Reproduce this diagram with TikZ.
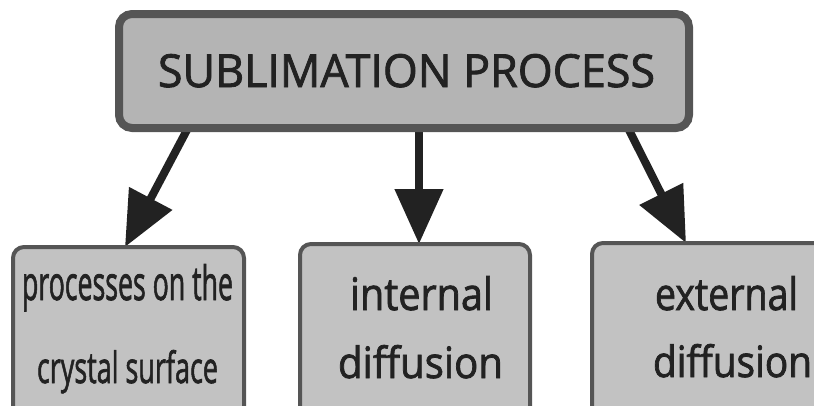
\documentclass[tikz,border=0pt]{standalone}
\usepackage{fontspec}
\setmainfont{Open Sans}
\newfontfamily\lblfont{Open Sans}[FakeBold=1.8]
\usetikzlibrary{arrows.meta,backgrounds}
\definecolor{boxline}{HTML}{555555}
\definecolor{topfill}{HTML}{B4B4B4}
\definecolor{subfill}{HTML}{C2C2C2}
\definecolor{arrowcol}{HTML}{222222}
\definecolor{txtcol}{HTML}{222222}
\tikzset{
  topbox/.style={draw=boxline, fill=topfill, line width=8pt, rounded corners=13pt,
    rectangle, outer sep=0pt, inner sep=0pt},
  subbox/.style={draw=boxline, fill=subfill, line width=4pt, rounded corners=11pt,
    rectangle, outer sep=0pt, inner sep=0pt},
  lbl/.style={anchor=base, inner sep=0pt, outer sep=0pt, text=txtcol, font=\lblfont},
  bigarrow/.style={draw=arrowcol, line width=8pt,
    -{Triangle[length=55pt, width=47pt]}},
}
\newcommand{\fitbox}[3]{\resizebox{#1pt}{#2pt}{#3}}
\begin{document}
\begin{tikzpicture}[x=1pt, y=-1pt]
\clip (0,0) rectangle (814,405);
\useasboundingbox (0,0) rectangle (814,405);
% boxes
\node[topbox, minimum width=570pt, minimum height=114pt] (top) at (404,71) {};
\node[subbox, minimum width=231pt, minimum height=200pt] (left) at (128.5,347) {};
\node[subbox, minimum width=230pt, minimum height=200pt] (mid) at (415,344) {};
\node[subbox, minimum width=240pt, minimum height=200pt] (right) at (712,343) {};
% arrows
\begin{scope}[on background layer]
\draw[bigarrow] ([xshift=69pt]top.south west) -- ([xshift=112pt]left.north west);
\draw[bigarrow] ([xshift=300pt]top.south west) -- ([xshift=119pt]mid.north west);
\draw[bigarrow] ([xshift=509pt]top.south west) -- ([xshift=94pt]right.north west);
\end{scope}
% texts
\node[lbl] (ttop) at (406.5,87) {\fitbox{497}{33}{SUBLIMATION PROCESS}};
\node[lbl] (tl1) at (127.5,300) {\fitbox{211}{36}{processes on the}};
\node[lbl] (tl2) at (127.5,383) {\fitbox{181}{33}{crystal surface}};
\node[lbl] (tm1) at (421.5,310) {\fitbox{143}{34}{internal}};
\node[lbl] (tm2) at (420.5,378) {\fitbox{165}{33}{diffusion}};
\node[lbl] (tr1) at (726.5,310) {\fitbox{143}{34}{external}};
\node[lbl] (tr2) at (732.5,377) {\fitbox{159}{33}{diffusion}};
\end{tikzpicture}
\end{document}
